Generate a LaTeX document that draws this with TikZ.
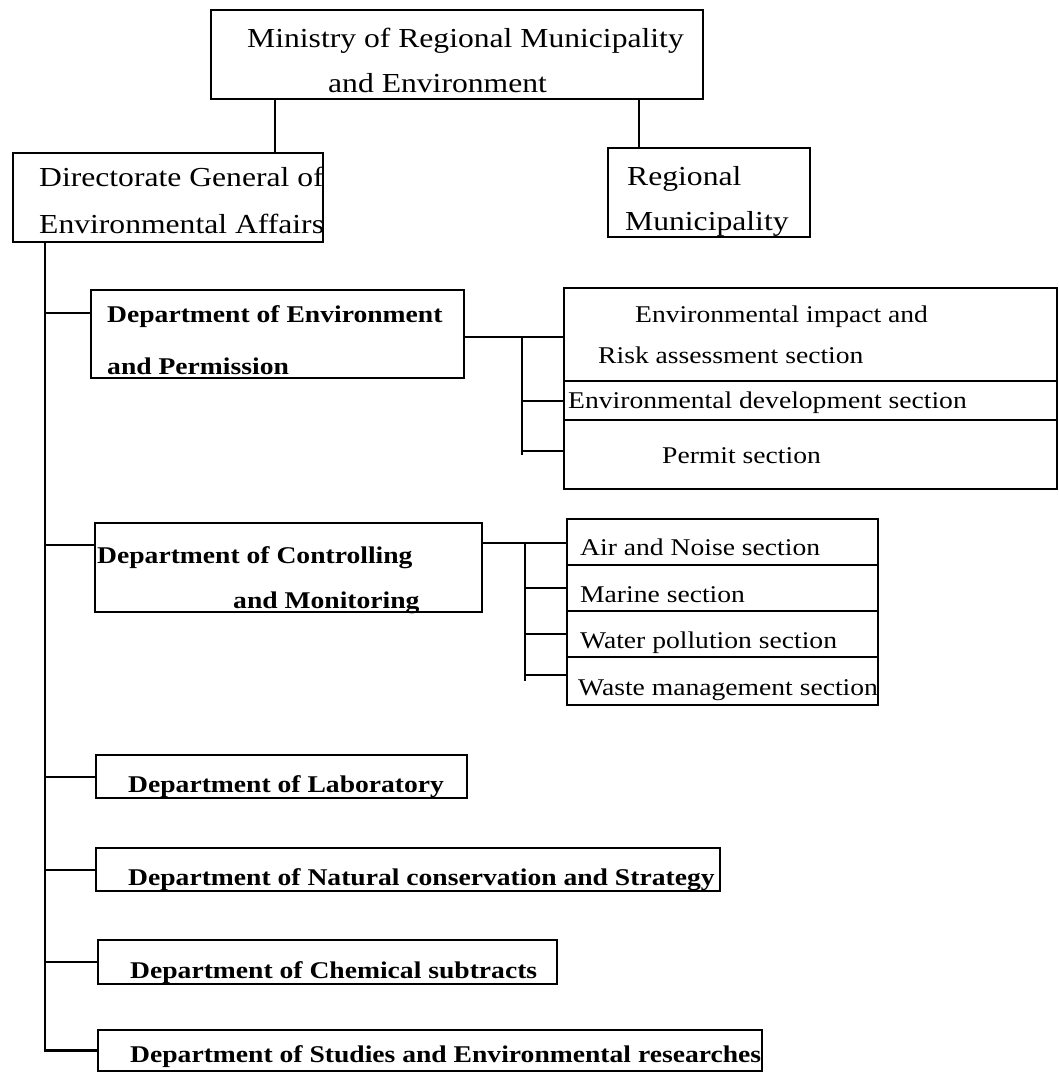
\documentclass[tikz,border=0pt]{standalone}
\usepackage{fontspec}
\setmainfont{Liberation Serif}[FakeStretch=1.15]
\begin{document}
\begin{tikzpicture}[x=1pt,y=-1pt,
  box/.style={draw, line width=1.9pt, inner sep=0pt, outer sep=0pt, anchor=north west},
  wire/.style={line width=2pt},
  trunk/.style={line width=2.8pt},
  big/.style={anchor=base west, inner sep=0pt, font=\fontsize{27.5}{34}\selectfont},
  sec/.style={anchor=base west, inner sep=0pt, font=\fontsize{24}{29}\selectfont},
  dept/.style={anchor=base west, inner sep=0pt, font=\fontsize{24}{30}\selectfont\bfseries},
]
\useasboundingbox (0,0) rectangle (1059,1074);
% boxes
\node[box, minimum width=492pt, minimum height=89pt] (min) at (211,10) {};
\node[box, minimum width=310pt, minimum height=89pt] (dir) at (13,153) {};
\node[box, minimum width=202pt, minimum height=89pt] (reg) at (608,148) {};
\node[box, minimum width=373pt, minimum height=88pt] (env) at (91,290) {};
\node[box, minimum width=493pt, minimum height=93pt] (sa) at (564,288) {};
\node[box, minimum width=493pt, minimum height=39pt] (sb) at (564,381) {};
\node[box, minimum width=493pt, minimum height=69pt] (sc) at (564,420) {};
\node[box, minimum width=387pt, minimum height=89pt] (ctl) at (95,523) {};
\node[box, minimum width=311pt, minimum height=46pt] (sd) at (567,519) {};
\node[box, minimum width=311pt, minimum height=46pt] (se) at (567,565) {};
\node[box, minimum width=311pt, minimum height=46pt] (sf) at (567,611) {};
\node[box, minimum width=311pt, minimum height=48pt] (sg) at (567,657) {};
\node[box, minimum width=371pt, minimum height=43pt] (lab) at (96,755) {};
\node[box, minimum width=624pt, minimum height=43pt] (nat) at (96,848) {};
\node[box, minimum width=459pt, minimum height=44pt] (chem) at (98,940) {};
\node[box, minimum width=664pt, minimum height=41pt] (stud) at (98,1030) {};
% texts
\node[big] (tmin1) at (247,47) {Ministry of Regional Municipality};
\node[big] (tmin2) at (328,92) {and Environment};
\node[big] (tdir1) at (39,186) {Directorate General of};
\node[big] (tdir2) at (39,233) {Environmental Affairs};
\node[big] (treg1) at (627,185) {Regional};
\node[big] (treg2) at (625,230) {Municipality};
\node[dept] (tenv1) at (107,322) {Department of Environment};
\node[dept] (tenv2) at (107,374) {and Permission};
\node[sec] (tsa1) at (635,322) {Environmental impact and};
\node[sec] (tsa2) at (598,363) {Risk assessment section};
\node[sec] (tsb) at (568,408) {Environmental development section};
\node[sec] (tsc) at (662,463) {Permit section};
\node[dept] (tctl1) at (97,563) {Department of Controlling};
\node[dept] (tctl2) at (233,608) {and Monitoring};
\node[sec] (tsd) at (580,555) {Air and Noise section};
\node[sec] (tse) at (580,602) {Marine section};
\node[sec] (tsf) at (580,648) {Water pollution section};
\node[sec] (tsg) at (578,695) {Waste management section};
\node[dept] (tlab) at (128,792) {Department of Laboratory};
\node[dept] (tnat) at (128,885) {Department of Natural conservation and Strategy};
\node[dept] (tchem) at (130,978) {Department of Chemical subtracts};
\node[dept] (tstud) at (130,1062) {Department of Studies and Environmental researches};
% connectors
\draw[wire] (min.south west) ++(64,0) coordinate (m1) -- (m1 |- dir.north);
\draw[wire] (min.south west) ++(428,0) coordinate (m2) -- (m2 |- reg.north);
\draw[trunk] (dir.south west) ++(32,0) coordinate (t0) -- (t0 |- stud.west) -- (stud.west);
\path (env.north west) ++(0,23) coordinate (e0);
\path (ctl.north west) ++(0,22) coordinate (c1);
\draw[wire] (t0 |- e0) -- (e0);
\draw[wire] (t0 |- c1) -- (c1);
\draw[wire] (t0 |- lab.west) -- (lab.west);
\draw[wire] (t0 |- nat.west) -- (nat.west);
\draw[wire] (t0 |- chem.west) -- (chem.west);
% env sections
\path (env.north east) ++(0,47) coordinate (e1);
\draw[wire] (e1) -- ++(58,0) coordinate (ej) -- (ej -| sa.west);
\draw[wire] (ej) -- (ej |- sc.west) ++(0,-4) coordinate (ek);
\draw[wire] (ej |- sb.west) -- (sb.west);
\draw[wire] (ej |- ek) -- (ek -| sc.west);
% ctl sections
\path (ctl.north east) ++(0,20) coordinate (c0);
\draw[wire] (c0) -- ++(43,0) coordinate (cj) -- (cj -| sd.west);
\draw[wire] (cj) -- (cj |- sg.west) ++(0,-6) coordinate (ck);
\draw[wire] (cj |- se.west) -- (se.west);
\draw[wire] (cj |- sf.west) -- (sf.west);
\draw[wire] (ck) -- (ck -| sg.west);
\end{tikzpicture}
\end{document}
